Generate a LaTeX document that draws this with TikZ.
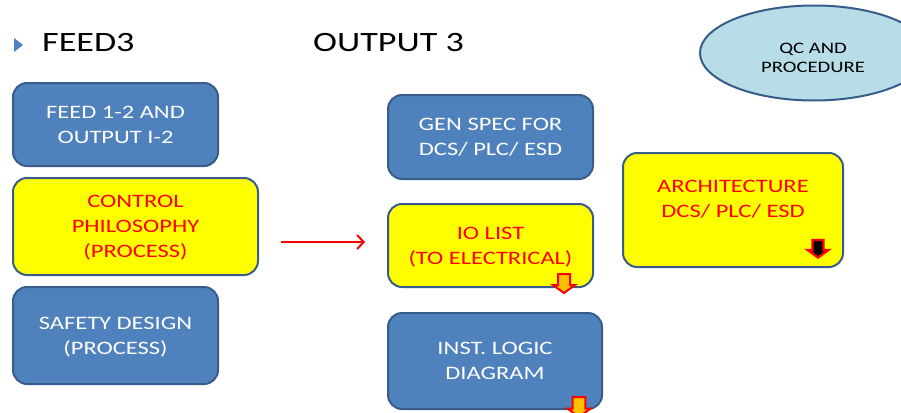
\documentclass[tikz,border=0pt]{standalone}
\usepackage{fontspec}
\setmainfont{Carlito}[FakeStretch=1.29]
\usetikzlibrary{arrows.meta,shapes.geometric}

\definecolor{boxblue}{HTML}{4F81BD}
\definecolor{edgeblue}{HTML}{385D8A}
\definecolor{qcblue}{HTML}{B7DEE8}
\definecolor{hiyellow}{HTML}{FFFF00}
\definecolor{tiporange}{HTML}{FFC000}

\begin{document}
\begin{tikzpicture}[x=1pt,y=-1pt,
  card/.style={draw=edgeblue, line width=2pt, rounded corners=14pt,
    inner sep=0pt, align=center, text depth=0pt, font=\fontsize{19}{25}\selectfont},
  bluecard/.style={card, fill=boxblue, text=white},
  yellowcard/.style={card, fill=hiyellow, text=red},
  cardtext/.style={inner sep=0pt, align=center, text depth=0pt, font=\fontsize{19}{25}\selectfont},
  heading/.style={inner sep=0pt, anchor=base west, font=\fontsize{28}{32}\selectfont},
  flowarrow/.style={draw=red, line width=2pt,
    -{Straight Barb[length=6.5pt,width=14pt,line width=2pt]}},
  downarrow/.pic={
    \path[pic actions] (-6,0) -- (6,0) -- (6,11) -- (11,11) -- (0,19)
      -- (-11,11) -- (-6,11) -- cycle;},
  orangetip/.style={fill=tiporange, draw=red, line width=2pt, line join=miter},
  blacktip/.style={fill=black, draw=red, line width=2.4pt, line join=miter}
]
\useasboundingbox (0,0) rectangle (901,412);
\fill[white] (0,0) rectangle (901,412);
\clip (0,0) rectangle (901,412);

% headings with the slide bullet
\fill[boxblue] (14,38) -- (23,45) -- (14,52) -- cycle;
\node[heading] (feedhead) at (42,52) {FEED3};
\node[heading] (outhead) at (313,52) {OUTPUT 3};

% QC ellipse, partly beyond the right edge
\node[ellipse, draw=edgeblue, line width=2pt, fill=qcblue, inner sep=0pt,
      minimum width=228pt, minimum height=95pt] (qc) at (814,53) {};
\node[inner sep=0pt, align=center, text depth=0pt,
      font=\fontsize{16}{18.5}\selectfont] (qctext) at (813,58) {QC AND\\PROCEDURE};

% left column: FEED inputs
\node[bluecard, minimum width=205pt, minimum height=83pt] (feed) at (115.5,124.5)
  {FEED 1-2 AND\\OUTPUT I-2};
\node[yellowcard, minimum width=245pt, minimum height=97pt] (ctrl) at (135.5,226.5)
  {CONTROL\\PHILOSOPHY\\(PROCESS)};
\node[bluecard, minimum width=205pt, minimum height=97pt] (safety) at (115.5,335.5)
  {SAFETY DESIGN\\(PROCESS)};

% middle column: outputs
\node[bluecard, minimum width=205pt, minimum height=84pt] (gen) at (490.5,137)
  {GEN SPEC FOR\\DCS/ PLC/ ESD};
\node[yellowcard, minimum width=205pt, minimum height=83pt] (io) at (490.5,245.5)
  {IO LIST\\(TO ELECTRICAL)};
\node[bluecard, minimum width=214pt, minimum height=96pt] (inst) at (495,361)
  {INST. LOGIC\\DIAGRAM};

% right column: architecture
\node[yellowcard, minimum width=220pt, minimum height=114pt] (arch) at (733,210) {};
\node[cardtext, text=red] (archtext) at (733,199) {ARCHITECTURE\\DCS/ PLC/ ESD};

% flow from control philosophy to the IO list
\coordinate (flowline) at (0,242);
\draw[flowarrow, shorten <=22pt, shorten >=22pt]
  (ctrl.east |- flowline) -- (io.west |- flowline);

% small down markers at the card corners
\pic[orangetip] at (564,274) {downarrow};
\pic[orangetip, scale=1.05] at (579,397) {downarrow};
\pic[blacktip, scale=0.92] at (818,240) {downarrow};
\end{tikzpicture}
\end{document}
